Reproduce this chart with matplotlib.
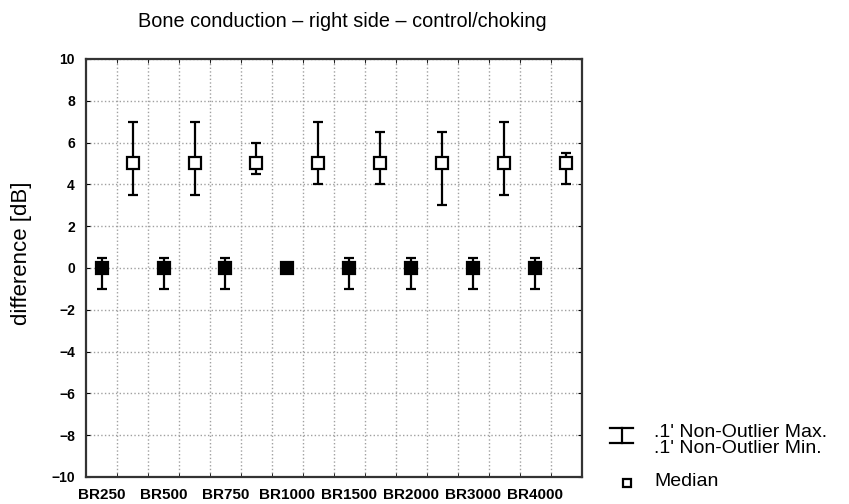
import numpy as np
import matplotlib
matplotlib.use('Agg')
import matplotlib.pyplot as plt
from matplotlib.lines import Line2D

plt.rcParams['font.family'] = ['Liberation Sans', 'DejaVu Sans']

# data
categories = ['BR250', 'BR500', 'BR750', 'BR1000', 'BR1500', 'BR2000', 'BR3000', 'BR4000']
control_median = [0, 0, 0, 0, 0, 0, 0, 0]
control_min = [-1, -1, -1, 0, -1, -1, -1, -1]
control_max = [0.5, 0.5, 0.5, 0, 0.5, 0.5, 0.5, 0.5]
choking_median = [5, 5, 5, 5, 5, 5, 5, 5]
choking_min = [3.5, 3.5, 4.5, 4, 4, 3, 3.5, 4]
choking_max = [7, 7, 6, 7, 6.5, 6.5, 7, 5.5]
yticks = [10, 8, 6, 4, 2, 0, -2, -4, -6, -8, -10]

fig = plt.figure(figsize=(8.49, 5.04), dpi=100)
ax = fig.add_axes([0.1013, 0.0536, 0.5842, 0.8294])

n = len(categories)
x_ctrl = np.arange(n) * 2
x_chok = np.arange(n) * 2 + 1


def draw_box(xs, med, lo, hi, face):
    med = np.array(med, float)
    lo = np.array(lo, float)
    hi = np.array(hi, float)
    ax.errorbar(xs, med, yerr=[med - lo, hi - med], fmt='none', ecolor='black',
                elinewidth=1.6, capsize=3.8, capthick=1.6, zorder=3)
    ax.plot(xs, med, ls='none', marker='s', ms=9 if face == 'black' else 8.3,
            mfc=face, mec='black', mew=1.6, zorder=4)


draw_box(x_ctrl, control_median, control_min, control_max, 'black')
draw_box(x_chok, choking_median, choking_min, choking_max, 'white')

ax.set_xlim(-0.5, 2 * n - 0.5)
ax.set_ylim(-10, 10)
ax.set_yticks(yticks)
ax.set_yticklabels([str(v).replace('-', '\u2212') for v in yticks],
                   fontsize=10, fontweight='bold')
ax.set_xticks(x_ctrl)
ax.set_xticklabels(categories, fontsize=11, fontweight='bold')
ax.set_xticks(np.arange(0.5, 2 * n - 1, 1), minor=True)

ax.tick_params(axis='y', direction='in', length=3, right=True, pad=8)
ax.tick_params(axis='x', which='major', length=0, pad=8)
ax.tick_params(axis='x', which='minor', direction='in', length=3, top=True)

ax.grid(True, axis='y', which='major', ls=':', color='#a0a0a0', lw=1)
ax.grid(True, axis='x', which='minor', ls=':', color='#a0a0a0', lw=1)
ax.set_axisbelow(True)

for s in ax.spines.values():
    s.set_linewidth(1.6)
    s.set_color('#333333')

ax.set_title('Bone conduction \u2013 right side \u2013 control/choking', fontsize=14.3, pad=23, x=0.516)
ax.set_ylabel('difference [dB]', fontsize=16)
ax.yaxis.set_label_coords(-0.109, 0.536)

# legend drawn by hand, lower right outside the axes
H = 504.0
W = 849.0
lx, ly = 621.5 / W, 1 - 435.5 / H
w, h = 11.5 / W, 7.5 / H
tf = fig.transFigure
fig.add_artist(Line2D([lx - w, lx + w], [ly + h, ly + h], color='black', lw=1.6, transform=tf))
fig.add_artist(Line2D([lx - w, lx + w], [ly - h, ly - h], color='black', lw=1.6, transform=tf))
fig.add_artist(Line2D([lx, lx], [ly - h, ly + h], color='black', lw=1.6, transform=tf))
fig.add_artist(Line2D([627 / W], [1 - 483 / H], ls='none', marker='s', ms=6.3, mfc='white',
                      mec='black', mew=1.6, transform=tf))
fig.text(654 / W, 1 - 437 / H, ".1' Non-Outlier Max.", fontsize=14, va='baseline')
fig.text(654 / W, 1 - 453 / H, ".1' Non-Outlier Min.", fontsize=14, va='baseline')
fig.text(654 / W, 1 - 486 / H, 'Median', fontsize=14, va='baseline')

fig.savefig('out.png', dpi=100)
